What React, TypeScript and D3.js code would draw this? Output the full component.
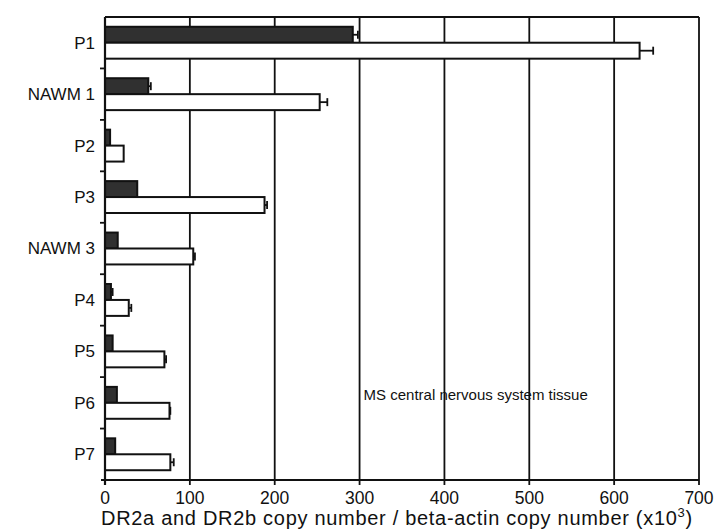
import * as d3 from 'd3';
import React from 'react';

// values (x10^3)
const categories = ['P1', 'NAWM 1', 'P2', 'P3', 'NAWM 3', 'P4', 'P5', 'P6', 'P7'];
const dr2a = [292, 51, 6, 38, 15, 7, 9, 14, 12];
const dr2aErr = [6, 3, 0, 0, 0, 2, 0, 0, 0];
const dr2b = [630, 253, 22, 188, 104, 28, 70, 76, 77];
const dr2bErr = [16, 9, 0, 3, 2, 3, 2, 1, 4];
const xTicks = [0, 100, 200, 300, 400, 500, 600, 700];
const note = 'MS central nervous system tissue';

const width = 715;
const height = 529;
const margin = { top: 17, right: 16, bottom: 49, left: 105 };
const font = 'Arial, "Liberation Sans", Helvetica, sans-serif';

export default function App() {
  const x = d3.scaleLinear()
    .domain([0, 700])
    .range([margin.left, width - margin.right]);

  const y = d3.scaleBand()
    .domain(categories)
    .range([margin.top, height - margin.bottom])
    .paddingInner(0)
    .paddingOuter(0);

  const band = y.bandwidth();
  const pad = band * 0.19;
  const barH = (band - 2 * pad) / 2;

  const series = [
    { values: dr2a, errs: dr2aErr, fill: '#303030', offset: pad },
    { values: dr2b, errs: dr2bErr, fill: '#ffffff', offset: pad + barH },
  ];

  const y0 = height - margin.bottom;
  const x0 = x(0);

  return (
    <svg
      width={width}
      height={height}
      style={{ position: 'absolute', left: 0, top: 0, background: '#fff' }}
    >
      {/* grid lines */}
      {xTicks.slice(1).map(t => (
        <line key={'g' + t} x1={x(t)} x2={x(t)} y1={margin.top} y2={y0}
          stroke="#111" strokeWidth={1.8} />
      ))}
      {/* top border */}
      <line x1={x0} x2={x(700)} y1={margin.top} y2={margin.top} stroke="#111" strokeWidth={1.8} />

      {/* bars */}
      {series.map((s, si) => (
        <g key={'s' + si}>
          {categories.map((c, i) => {
            const by = (y(c) as number) + s.offset;
            const xe = x(s.values[i]);
            return (
              <g key={c}>
                <rect x={x0} y={by} width={xe - x0} height={barH}
                  fill={s.fill} stroke="#111" strokeWidth={2} />
                {s.errs[i] > 0 && (
                  <g stroke="#111" strokeWidth={1.8}>
                    <line x1={xe} x2={x(s.values[i] + s.errs[i])} y1={by + barH / 2} y2={by + barH / 2} />
                    <line x1={x(s.values[i] + s.errs[i])} x2={x(s.values[i] + s.errs[i])}
                      y1={by + barH / 2 - 4} y2={by + barH / 2 + 4} />
                  </g>
                )}
              </g>
            );
          })}
        </g>
      ))}

      {/* left axis */}
      <line x1={x0} x2={x0} y1={margin.top} y2={y0 + 5} stroke="#111" strokeWidth={2.2} />
      {categories.slice(1).map(c => (
        <line key={'lt' + c} x1={x0 - 5} x2={x0} y1={y(c)} y2={y(c)} stroke="#111" strokeWidth={1.8} />
      ))}
      {categories.map(c => (
        <text key={'lbl' + c} x={x0 - 10} y={(y(c) as number) + band / 2} dy="0.35em"
          textAnchor="end" fontFamily={font} fontSize={17} fill="#111">{c}</text>
      ))}

      {/* bottom axis */}
      <line x1={x0 - 4} x2={x(700)} y1={y0} y2={y0} stroke="#111" strokeWidth={2.2} />
      {xTicks.map(t => (
        <g key={'xt' + t}>
          <line x1={x(t)} x2={x(t)} y1={y0} y2={y0 + 5} stroke="#111" strokeWidth={1.8} />
          <text x={x(t)} y={y0 + 24} textAnchor="middle" fontFamily={font} fontSize={17.5} fill="#111">{t}</text>
        </g>
      ))}
      <text x={x0 - 4} y={height - 4} letterSpacing={0.7}
        fontFamily={font} fontSize={20} fill="#111">
        DR2a and DR2b copy number / beta-actin copy number (x10
        <tspan dy={-8} fontSize={13}>3</tspan>
        <tspan dy={8}>)</tspan>
      </text>

      {/* annotation */}
      <text x={x(300) + 4} y={y(categories[7])! + band / 2 - 3} fontFamily={font} fontSize={15} fill="#111">
        {note}
      </text>
    </svg>
  );
}
